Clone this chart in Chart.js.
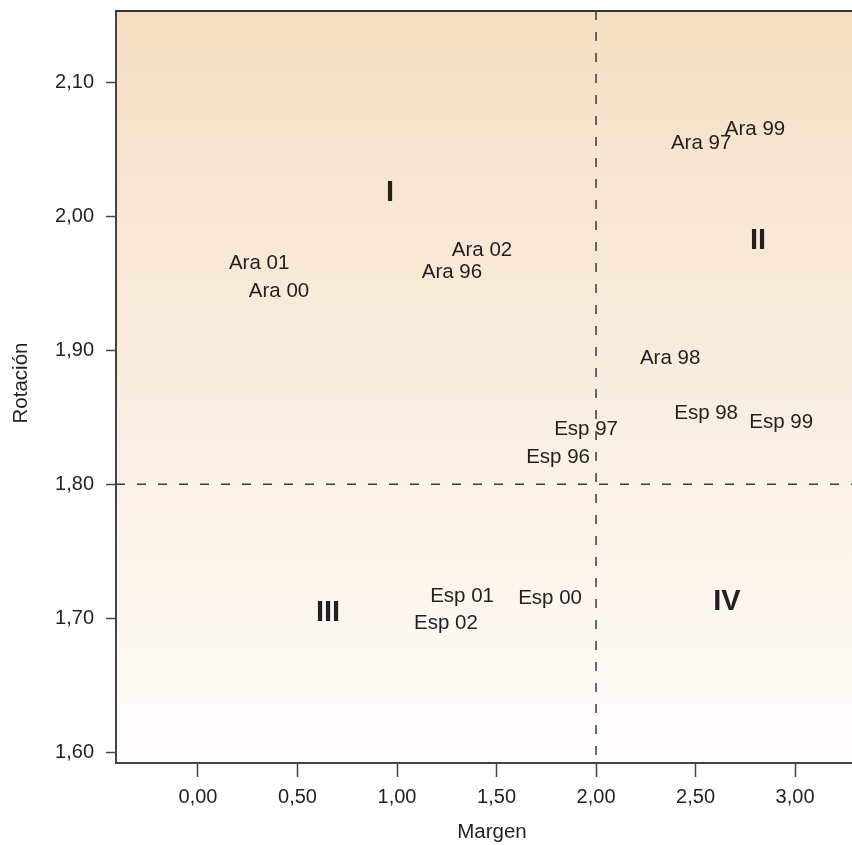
<!DOCTYPE html>
<html>
<head>
<meta charset="utf-8">
<script src="https://cdn.jsdelivr.net/npm/chart.js@4/dist/chart.umd.min.js"></script>
<style>
  html, body { margin: 0; padding: 0; background: #fff; }
  #wrap { width: 852px; height: 845px; position: relative; }
</style>
</head>
<body>
<div id="wrap"><canvas id="chart"></canvas></div>
<script>
// point labels and their coordinates (margen, rotacion)
var labels = ['Ara 96', 'Ara 97', 'Ara 98', 'Ara 99', 'Ara 00', 'Ara 01', 'Ara 02',
              'Esp 96', 'Esp 97', 'Esp 98', 'Esp 99', 'Esp 00', 'Esp 01', 'Esp 02'];
var margen = [1.276, 2.528, 2.372, 2.799, 0.407, 0.307, 1.427,
              1.809, 1.950, 2.553, 2.930, 1.769, 1.327, 1.246];
var rotacion = [1.958, 2.055, 1.894, 2.065, 1.944, 1.965, 1.975,
                1.820, 1.841, 1.853, 1.846, 1.715, 1.716, 1.696];

// quadrant names
var quadrants = ['I', 'II', 'III', 'IV'];
var quadX = [0.965, 2.814, 0.653, 2.658];
var quadY = [2.018, 1.982, 1.704, 1.712];

// reference lines
var refMargen = 2.00;
var refRotacion = 1.80;

var xTicks = [0, 0.5, 1, 1.5, 2, 2.5, 3];
var yTicks = [1.6, 1.7, 1.8, 1.9, 2.0, 2.1];

var FONT = '"Liberation Sans", Arial, sans-serif';
var TEXT = '#231f20';

function fmt(v) {
  return v.toFixed(2).replace('.', ',');
}

var points = margen.map(function (m, i) {
  return { x: m, y: rotacion[i] };
});

var backdrop = {
  id: 'backdrop',
  beforeDraw: function (chart) {
    var a = chart.chartArea, ctx = chart.ctx;
    var g = ctx.createLinearGradient(0, a.top, 0, a.bottom);
    g.addColorStop(0, '#f5dfc3');
    g.addColorStop(0.5, '#f9ede0');
    g.addColorStop(1, '#fefdfb');
    ctx.save();
    ctx.fillStyle = g;
    ctx.fillRect(a.left, a.top, a.right - a.left, a.bottom - a.top);
    ctx.restore();
  },
  afterDatasetsDraw: function (chart) {
    var a = chart.chartArea, ctx = chart.ctx;
    var xs = chart.scales.x, ys = chart.scales.y;
    ctx.save();
    // dashed reference lines
    ctx.strokeStyle = '#3a3a3a';
    ctx.lineWidth = 1.5;
    ctx.setLineDash([9, 12]);
    var px = xs.getPixelForValue(refMargen);
    ctx.beginPath();
    ctx.moveTo(px, a.top);
    ctx.lineTo(px, a.bottom);
    ctx.stroke();
    var py = ys.getPixelForValue(refRotacion);
    ctx.beginPath();
    ctx.moveTo(a.left, py);
    ctx.lineTo(a.right, py);
    ctx.stroke();
    ctx.setLineDash([]);
    // top border
    ctx.strokeStyle = '#333';
    ctx.lineWidth = 2;
    ctx.beginPath();
    ctx.moveTo(a.left, a.top);
    ctx.lineTo(a.right, a.top);
    ctx.stroke();

    ctx.fillStyle = TEXT;
    ctx.textAlign = 'center';
    ctx.textBaseline = 'middle';
    // point labels
    ctx.font = '20.5px ' + FONT;
    labels.forEach(function (t, i) {
      ctx.fillText(t, xs.getPixelForValue(margen[i]), ys.getPixelForValue(rotacion[i]));
    });
    // quadrant labels
    ctx.font = 'bold 29px ' + FONT;
    quadrants.forEach(function (q, i) {
      ctx.fillText(q, xs.getPixelForValue(quadX[i]), ys.getPixelForValue(quadY[i]));
    });
    // axis titles
    ctx.font = '20.5px ' + FONT;
    ctx.fillText('Margen', 492, 832);
    ctx.translate(21, 383);
    ctx.rotate(-Math.PI / 2);
    ctx.fillText('Rotación', 0, 0);
    ctx.restore();
  }
};

new Chart(document.getElementById('chart'), {
  type: 'scatter',
  data: {
    datasets: [{
      data: points,
      pointRadius: 0,
      pointHoverRadius: 0,
      showLine: false
    }]
  },
  options: {
    responsive: true,
    maintainAspectRatio: false,
    animation: false,
    events: [],
    layout: { padding: { top: 11, right: 0, left: 0, bottom: 0 } },
    plugins: {
      legend: { display: false },
      tooltip: { enabled: false }
    },
    scales: {
      x: {
        type: 'linear',
        min: -0.412,
        max: 3.286,
        afterBuildTicks: function (s) {
          s.ticks = xTicks.map(function (v) { return { value: v }; });
        },
        afterFit: function (s) {
          s.height = 82;
          s.paddingLeft = 0;
          s.paddingRight = 0;
        },
        ticks: {
          callback: function (v) { return fmt(v); },
          font: { size: 20, family: FONT },
          color: TEXT,
          padding: 8,
          maxRotation: 0
        },
        grid: {
          drawOnChartArea: false,
          tickLength: 14,
          tickWidth: 1.5,
          tickColor: '#444'
        },
        border: { color: '#444', width: 2 }
      },
      y: {
        type: 'linear',
        min: 1.5918,
        max: 2.1536,
        afterBuildTicks: function (s) {
          s.ticks = yTicks.map(function (v) { return { value: v }; });
        },
        afterFit: function (s) {
          s.width = 116;
          s.paddingTop = 0;
          s.paddingBottom = 0;
        },
        ticks: {
          callback: function (v) { return fmt(v); },
          font: { size: 20, family: FONT },
          color: TEXT,
          padding: 12
        },
        grid: {
          drawOnChartArea: false,
          tickLength: 10,
          tickWidth: 1.5,
          tickColor: '#444'
        },
        border: { color: '#444', width: 2 }
      }
    }
  },
  plugins: [backdrop]
});
</script>
</body>
</html>
